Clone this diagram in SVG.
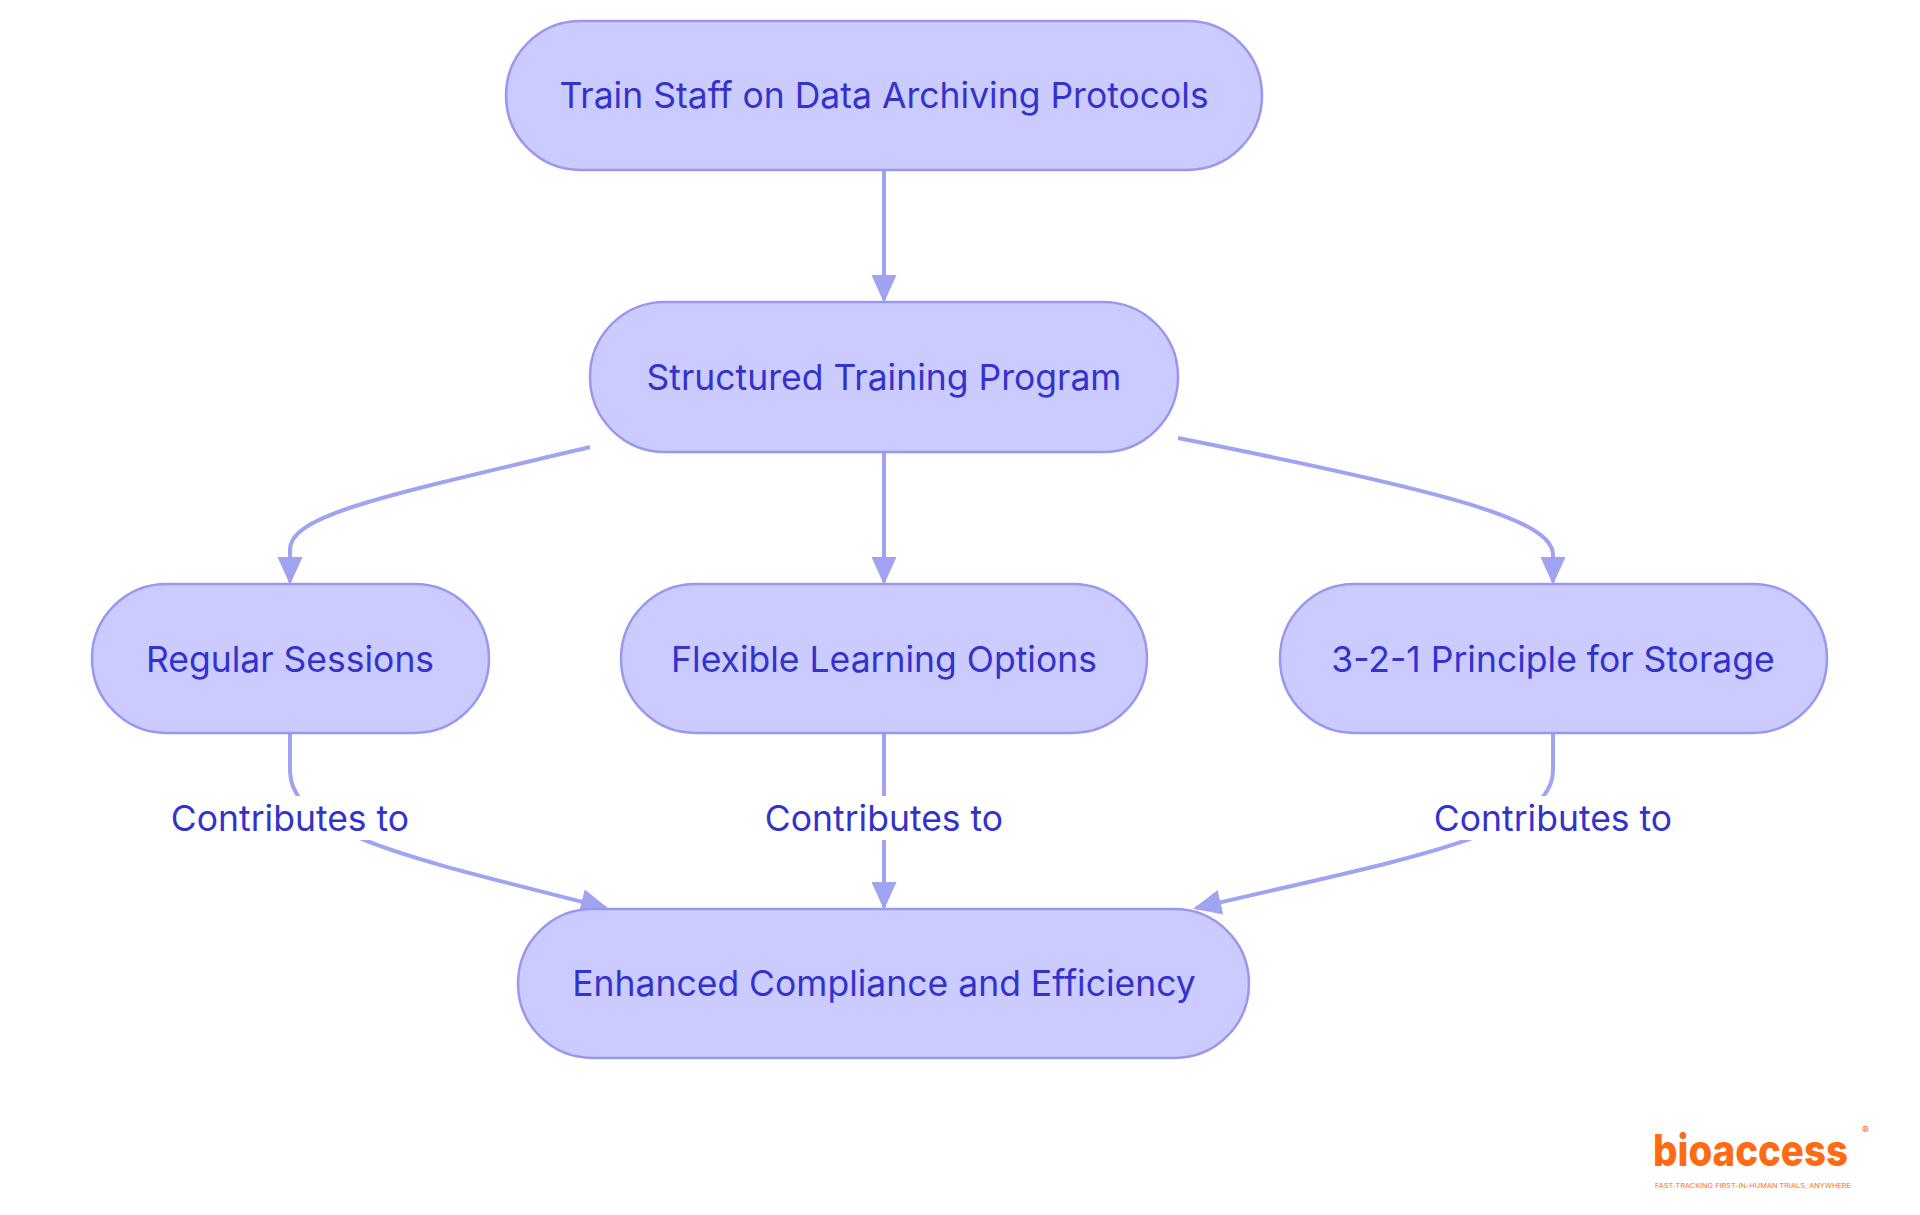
<svg xmlns="http://www.w3.org/2000/svg" width="1920" height="1215" viewBox="0 0 1920 1215">
<style>
.n{fill:#cbcbff;stroke:#9898ef;stroke-width:2.5}
.t{font-family:Inter,"Noto Sans",sans-serif;font-size:35.5px;fill:#3333cc;text-anchor:middle;dominant-baseline:central}
.e{fill:none;stroke:#a0a3f2;stroke-width:4}
.lb{fill:#fff}
</style>
<defs><marker id="m" viewBox="0 0 10 10" refX="9" refY="5" markerWidth="28" markerHeight="28" markerUnits="userSpaceOnUse" orient="auto"><path d="M0,0.5L10,5L0,9.5z" fill="#a0a3f2"/></marker></defs>
<rect width="1920" height="1215" fill="#fff"/>
<g id="edges">
<path class="e" marker-end="url(#m)" d="M884,170 L884,300"/>
<path class="e" marker-end="url(#m)" d="M590,447 C380,497 290,515 290,550 L290,582"/>
<path class="e" marker-end="url(#m)" d="M884,452 L884,582"/>
<path class="e" marker-end="url(#m)" d="M1178,438 C1450,492 1553,520 1553,555 L1553,582"/>
<path class="e" marker-end="url(#m)" d="M290,733 L290,770 C290,835 420,860 606,908"/>
<path class="e" marker-end="url(#m)" d="M884,733 L884,907"/>
<path class="e" marker-end="url(#m)" d="M1553,733 L1553,770 C1553,835 1400,860 1196,908"/>
<rect class="lb" x="160" y="796" width="260" height="44"/><text class="t" x="290" y="818">Contributes to</text>
<rect class="lb" x="754" y="796" width="260" height="44"/><text class="t" x="884" y="818">Contributes to</text>
<rect class="lb" x="1423" y="796" width="260" height="44"/><text class="t" x="1553" y="818">Contributes to</text>
</g>
<g id="n1"><rect class="n" x="506" y="21" width="756" height="149" rx="74.5"/><text class="t" x="884" y="95">Train Staff on Data Archiving Protocols</text></g>
<g id="n2"><rect class="n" x="590" y="302" width="588" height="150" rx="75"/><text class="t" x="884" y="377">Structured Training Program</text></g>
<g id="n3"><rect class="n" x="92" y="584" width="397" height="149" rx="74.5"/><text class="t" x="290" y="659">Regular Sessions</text></g>
<g id="n4"><rect class="n" x="621" y="584" width="526" height="149" rx="74.5"/><text class="t" x="884" y="659">Flexible Learning Options</text></g>
<g id="n5"><rect class="n" x="1280" y="584" width="547" height="149" rx="74.5"/><text class="t" x="1553" y="659">3-2-1 Principle for Storage</text></g>
<g id="n6"><rect class="n" x="518" y="909" width="731" height="149" rx="74.5"/><text class="t" x="884" y="983">Enhanced Compliance and Efficiency</text></g>
<g id="logo" font-family="Inter,'Liberation Sans',sans-serif" fill="#ff6a13">
<text x="1653" y="1166" font-size="44" font-weight="800" textLength="195" lengthAdjust="spacingAndGlyphs">bioaccess</text>
<text x="1862" y="1134" font-size="10" font-weight="700">®</text>
<text x="1655" y="1188" font-size="5.5" textLength="196" lengthAdjust="spacingAndGlyphs">FAST-TRACKING FIRST-IN-HUMAN TRIALS, ANYWHERE</text>
</g>
</svg>
